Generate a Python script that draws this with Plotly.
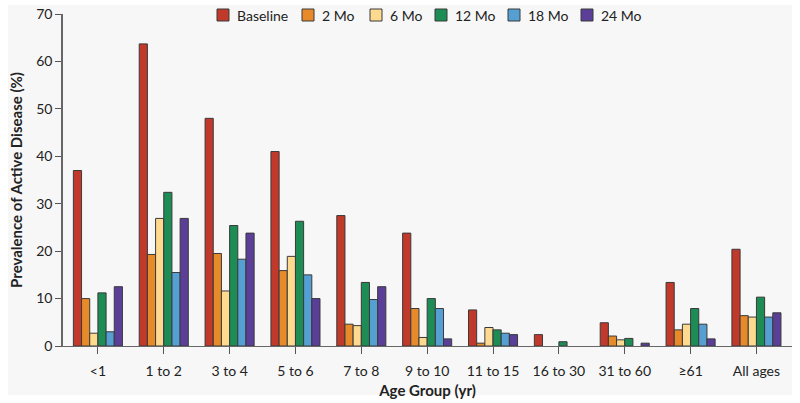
import plotly.graph_objects as go

categories = ["<1", "1 to 2", "3 to 4", "5 to 6", "7 to 8", "9 to 10",
              "11 to 15", "16 to 30", "31 to 60", "≥61", "All ages"]

baseline = [37.0, 63.7, 48.0, 41.0, 27.5, 23.8, 7.6, 2.4, 4.9, 13.4, 20.4]
mo2      = [10.0, 19.3, 19.5, 15.9, 4.6, 7.9, 0.6, None, 2.1, 3.4, 6.4]
mo6      = [2.7, 26.9, 11.6, 18.9, 4.3, 1.8, 3.9, None, 1.3, 4.6, 6.1]
mo12     = [11.2, 32.4, 25.4, 26.3, 13.4, 10.0, 3.4, 0.9, 1.6, 7.9, 10.3]
mo18     = [3.0, 15.5, 18.3, 15.0, 9.8, 7.9, 2.7, None, None, 4.6, 6.1]
mo24     = [12.5, 26.9, 23.8, 10.0, 12.5, 1.5, 2.4, None, 0.6, 1.5, 7.0]

series_names = ["Baseline", "2 Mo", "6 Mo", "12 Mo", "18 Mo", "24 Mo"]
series_values = [baseline, mo2, mo6, mo12, mo18, mo24]
colors = ["#c0392b", "#e68a2a", "#fed990", "#1d8c55", "#569fd2", "#5b3e98"]

y_ticks = [0, 10, 20, 30, 40, 50, 60, 70]

FONT = "Lato"
OUTLINE = "#3a3a3a"

fig = go.Figure()
for name, vals, col in zip(series_names, series_values, colors):
    fig.add_trace(go.Bar(
        name=name, x=categories, y=vals, showlegend=False,
        marker=dict(color=col, line=dict(color=OUTLINE, width=1)),
    ))

# plot area on screen: x 63..792, y 14..346
W, H = 800, 403
L, R, T, B = 63, 8, 14, 57
pw = W - L - R
ph = H - T - B

def px_x(p):
    return (p - L) / pw

def px_y(p):
    return (H - B - p) / ph

shapes = [dict(type="rect", xref="paper", yref="paper",
               x0=px_x(8), x1=px_x(792), y0=px_y(395), y1=px_y(5),
               fillcolor="#f7f7f7", line=dict(width=0), layer="below")]
annotations = []

# legend drawn as squares + text at the top of the plot
leg_square_x = [217, 302, 370, 435, 508, 581]
for name, col, sx in zip(series_names, colors, leg_square_x):
    shapes.append(dict(type="rect", xref="paper", yref="paper",
                       x0=px_x(sx), x1=px_x(sx + 12),
                       y0=px_y(21), y1=px_y(9),
                       fillcolor=col, line=dict(color=OUTLINE, width=1)))
    annotations.append(dict(text=name, xref="paper", yref="paper",
                            x=px_x(sx + 18), y=px_y(15.5),
                            xanchor="left", yanchor="middle", showarrow=False,
                            font=dict(family=FONT, size=14, color="#222")))

fig.update_layout(
    width=W, height=H,
    margin=dict(l=L, r=R, t=T, b=B, autoexpand=False),
    barmode="group", bargap=0.255, bargroupgap=0,
    paper_bgcolor="white",
    plot_bgcolor="rgba(0,0,0,0)",
    font=dict(family=FONT, size=14, color="#222"),
    showlegend=False,
    hovermode=False,
    shapes=shapes,
    annotations=annotations,
)

fig.update_xaxes(
    range=[-0.53, 10.54], showline=True, linecolor="#666", linewidth=1,
    ticks="outside", ticklen=7, tickcolor="#555", automargin=False,
    ticklabelstandoff=5,
    tickfont=dict(family=FONT, size=14, color="#222"),
    showgrid=False, zeroline=False,
    title=dict(text="Age Group (yr)", standoff=7,
               font=dict(family=FONT, size=15, color="#222", weight="bold")),
)
fig.update_yaxes(
    range=[0, 70], tickvals=y_ticks, showline=True, linecolor="#666", linewidth=1.5,
    ticks="outside", ticklen=6, tickcolor="#555", automargin=False,
    tickfont=dict(family=FONT, size=14, color="#222"),
    showgrid=False, zeroline=False,
    title=dict(text="Prevalence of Active Disease (%)", standoff=10,
               font=dict(family=FONT, size=15, color="#222", weight="bold")),
)

fig.write_html("out.html", config={"displayModeBar": False},
               post_script="document.body.style.margin='0';")
